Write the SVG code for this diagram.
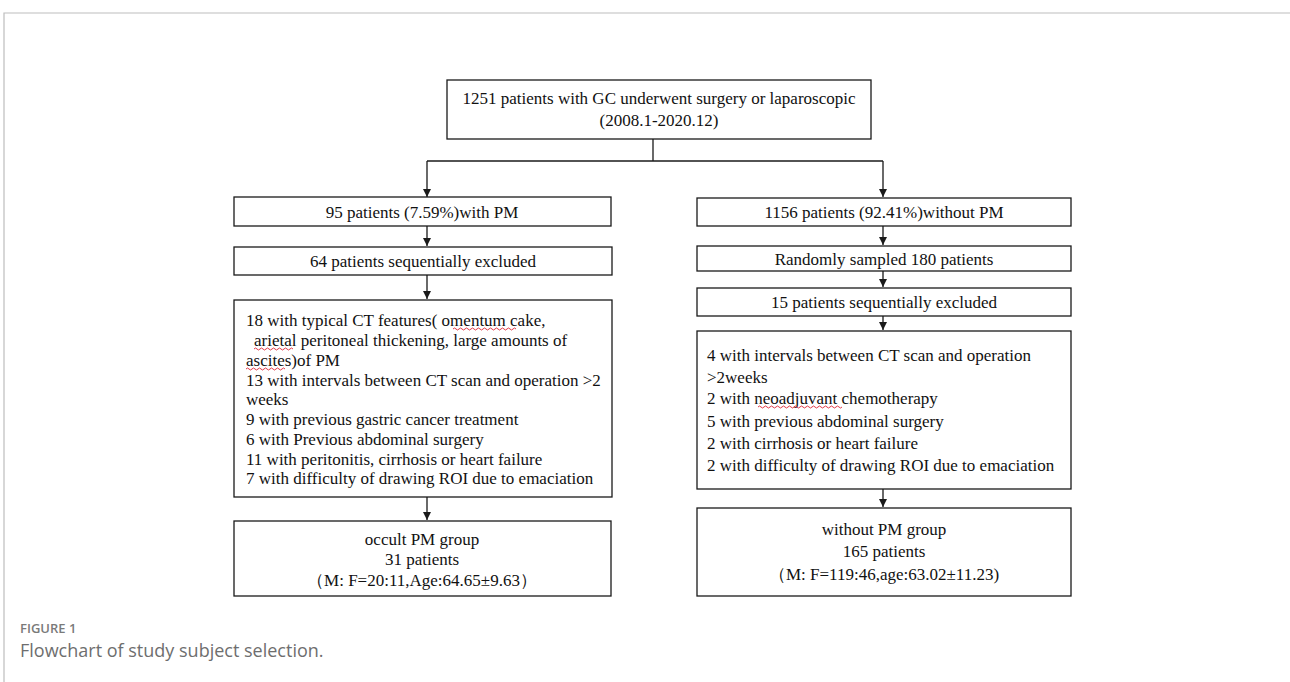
<svg xmlns="http://www.w3.org/2000/svg" width="1290" height="682" viewBox="0 0 1290 682">
<defs>
<style>
.box{fill:#fff;stroke:#1a1a1a;stroke-width:1.3}
.t{font-family:"Liberation Serif","Times New Roman",serif;font-size:17px;fill:#111}
.c{text-anchor:middle}
.ln{stroke:#1a1a1a;stroke-width:1.3;fill:none}
.sq{stroke:#d23;stroke-width:0.9;fill:none}
.frame{stroke:#bdbdbd;stroke-width:1.2;fill:none}
.cap1{font-family:"Open Sans","Noto Sans",sans-serif;font-size:13px;font-weight:600;fill:#7a7a7a}
.cap2{font-family:"Open Sans","Noto Sans",sans-serif;font-size:18px;fill:#6e6e6e}
</style>
<marker id="ah" viewBox="0 0 10 10" refX="10" refY="5" markerWidth="8" markerHeight="8" markerUnits="userSpaceOnUse" orient="auto">
<path d="M0,0 L10,5 L0,10 z" fill="#1a1a1a"/>
</marker>
</defs>
<rect width="1290" height="682" fill="#fff"/>
<path class="frame" d="M4,682 V13 H1290"/>

<g id="connectors">
<path class="ln" d="M653,139 V161"/>
<path class="ln" d="M427,161 H883"/>
<path class="ln" d="M427,161 V197" marker-end="url(#ah)"/>
<path class="ln" d="M883,161 V197" marker-end="url(#ah)"/>
<path class="ln" d="M427,226 V246" marker-end="url(#ah)"/>
<path class="ln" d="M427,275 V299" marker-end="url(#ah)"/>
<path class="ln" d="M427,497 V520" marker-end="url(#ah)"/>
<path class="ln" d="M883,226 V245" marker-end="url(#ah)"/>
<path class="ln" d="M883,271 V287" marker-end="url(#ah)"/>
<path class="ln" d="M883,316 V330" marker-end="url(#ah)"/>
<path class="ln" d="M883,489 V507" marker-end="url(#ah)"/>
</g>

<g id="n_top">
<rect class="box" x="447" y="80" width="424" height="59"/>
<text class="t c" x="659" y="104">1251 patients with GC underwent surgery or laparoscopic</text>
<text class="t c" x="659" y="126">(2008.1-2020.12)</text>
</g>

<g id="n_pm">
<rect class="box" x="234" y="197" width="377" height="29"/>
<text class="t c" x="422" y="218">95 patients (7.59%)with PM</text>
</g>

<g id="n_pm_excl">
<rect class="box" x="234" y="247" width="378" height="28"/>
<text class="t c" x="423" y="267">64 patients sequentially excluded</text>
</g>

<g id="n_pm_reasons">
<rect class="box" x="234" y="300" width="378" height="197"/>
<text class="t" x="246" y="326">18 with typical CT features( omentum cake,</text>
<text class="t" x="254" y="346">arietal peritoneal thickening, large amounts of</text>
<text class="t" x="246" y="366">ascites)of PM</text>
<text class="t" x="246" y="386">13 with intervals between CT scan and operation &gt;2</text>
<text class="t" x="246" y="405">weeks</text>
<text class="t" x="246" y="425">9 with previous gastric cancer treatment</text>
<text class="t" x="246" y="445">6 with Previous abdominal surgery</text>
<text class="t" x="246" y="465">11 with peritonitis, cirrhosis or heart failure</text>
<text class="t" x="246" y="484">7 with difficulty of drawing ROI due to emaciation</text>
<path class="sq" d="M453,329 q1.5,-2 3,0 t3,0 t3,0 t3,0 t3,0 t3,0 t3,0 t3,0 t3,0 t3,0 t3,0 t3,0 t3,0 t3,0 t3,0 t3,0 t3,0 t3,0 t3,0 t3,0 t3,0"/>
<path class="sq" d="M254,349 q1.5,-2 3,0 t3,0 t3,0 t3,0 t3,0 t3,0 t3,0 t3,0 t3,0 t3,0 t3,0 t3,0 t3,0"/>
<path class="sq" d="M246,369 q1.5,-2 3,0 t3,0 t3,0 t3,0 t3,0 t3,0 t3,0 t3,0 t3,0 t3,0 t3,0 t3,0 t3,0"/>
</g>

<g id="n_occult">
<rect class="box" x="234" y="521" width="377" height="75"/>
<text class="t c" x="422" y="545">occult PM group</text>
<text class="t c" x="422" y="565">31 patients</text>
<text class="t c" x="422" y="586">（M: F=20:11,Age:64.65±9.63）</text>
</g>

<g id="n_nopm">
<rect class="box" x="697" y="198" width="374" height="28"/>
<text class="t c" x="884" y="218">1156 patients (92.41%)without PM</text>
</g>

<g id="n_sampled">
<rect class="box" x="697" y="246" width="374" height="25"/>
<text class="t c" x="884" y="265">Randomly sampled 180 patients</text>
</g>

<g id="n_nopm_excl">
<rect class="box" x="697" y="288" width="374" height="28"/>
<text class="t c" x="884" y="308">15 patients sequentially excluded</text>
</g>

<g id="n_nopm_reasons">
<rect class="box" x="697" y="331" width="374" height="158"/>
<text class="t" x="707" y="361">4 with intervals between CT scan and operation</text>
<text class="t" x="707" y="383">&gt;2weeks</text>
<text class="t" x="707" y="404">2 with neoadjuvant chemotherapy</text>
<text class="t" x="707" y="427">5 with previous abdominal surgery</text>
<text class="t" x="707" y="449">2 with cirrhosis or heart failure</text>
<text class="t" x="707" y="471">2 with difficulty of drawing ROI due to emaciation</text>
<path class="sq" d="M758,407 q1.5,-2 3,0 t3,0 t3,0 t3,0 t3,0 t3,0 t3,0 t3,0 t3,0 t3,0 t3,0 t3,0 t3,0 t3,0 t3,0 t3,0 t3,0 t3,0 t3,0 t3,0 t3,0 t3,0 t3,0 t3,0 t3,0 t3,0 t3,0 t3,0"/>
</g>

<g id="n_without">
<rect class="box" x="697" y="508" width="374" height="88"/>
<text class="t c" x="884" y="535">without PM group</text>
<text class="t c" x="884" y="557">165 patients</text>
<text class="t c" x="884" y="580">（M: F=119:46,age:63.02±11.23)</text>
</g>

<text class="cap1" x="20" y="633">FIGURE 1</text>
<text class="cap2" x="20" y="657">Flowchart of study subject selection.</text>
</svg>
